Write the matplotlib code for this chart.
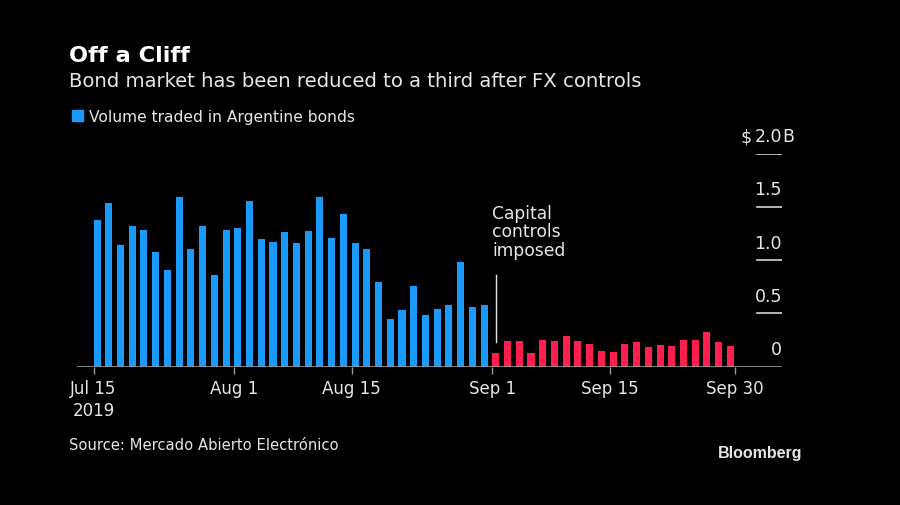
import numpy as np
import matplotlib
matplotlib.use("Agg")
import matplotlib.pyplot as plt
from matplotlib.patches import Rectangle

# Daily volume traded in Argentine bonds, $ billions (one bar per trading day)
blue_values = [1.38, 1.54, 1.14, 1.32, 1.28, 1.08, 0.91, 1.59, 1.10, 1.32,
               0.86, 1.28, 1.30, 1.56, 1.20, 1.17, 1.26, 1.16, 1.27, 1.59,
               1.21, 1.43, 1.16, 1.10, 0.79, 0.45, 0.53, 0.76, 0.48, 0.54,
               0.58, 0.98, 0.56, 0.58]
red_values = [0.13, 0.24, 0.24, 0.13, 0.25, 0.24, 0.29, 0.24, 0.21, 0.15,
              0.14, 0.21, 0.23, 0.18, 0.20, 0.19, 0.25, 0.25, 0.32, 0.23,
              0.19]

# x tick labels and their place on the trading-day axis
tick_labels = ["Jul 15\n2019", "Aug 1", "Aug 15", "Sep 1", "Sep 15", "Sep 30"]
tick_pos = [-0.3, 11.7, 21.7, 33.7, 43.7, 54.4]
y_ticks = [0, 0.5, 1.0, 1.5, 2.0]

BLUE = "#1a9bfc"
RED = "#ff1f4f"
TEXT = "#e6e6e6"
GREY = "#9a9a9a"
W, H = 900, 505

plt.rcParams['font.family'] = ['DejaVu Sans']


def fx(px):
    return px / W


def fy(py):
    return 1 - py / H


fig = plt.figure(figsize=(9, 5.05), dpi=100, facecolor="black")
ax = fig.add_axes([fx(77), fy(366.5), fx(782 - 77), (366.5 - 153.7) / H])
ax.set_facecolor("black")

n_blue = len(blue_values)
x_blue = np.arange(n_blue)
x_red = np.arange(n_blue, n_blue + len(red_values))
ax.bar(x_blue, blue_values, width=0.6, color=BLUE)
ax.bar(x_red, red_values, width=0.6, color=RED)

ax.set_xlim(-1.71, 58.4)
ax.set_ylim(0, 2.0)

for s in ax.spines.values():
    s.set_visible(False)
ax.axhline(0, color=GREY, lw=1.2)
ax.set_yticks([])
ax.set_xticks(tick_pos)
ax.set_xticklabels(tick_labels, color=TEXT, fontsize=12, linespacing=1.25)
ax.tick_params(axis="x", length=5, width=1, color=GREY, pad=5)

# short gridlines with labels at the right
ytrans = ax.get_yaxis_transform()
for v in y_ticks:
    if v > 0:
        ax.axhline(v, xmin=0.9645, xmax=1, color=TEXT, lw=1.1)
    lab = "0" if v == 0 else f"{v:.1f}"
    ax.text(1.0, v + 0.155, lab, transform=ytrans,
            ha="right", va="center", color=TEXT, fontsize=12.5)
ax.text(0.957, 2.0 + 0.155, "$", transform=ytrans,
        ha="right", va="center", color=TEXT, fontsize=12.5)
ax.text(1.0, 2.0 + 0.155, "B", transform=ytrans,
        ha="left", va="center", color=TEXT, fontsize=12.5)

# annotation
ax.plot([n_blue, n_blue], [0.23, 0.86], color=TEXT, lw=1)
ax.text(n_blue - 0.3, 1.0, "Capital\ncontrols\nimposed", ha="left", va="bottom",
        color=TEXT, fontsize=12.3, linespacing=1.05)

# titles and legend
fig.text(fx(69), fy(62), "Off a Cliff", color="white", fontsize=16.2,
         fontweight="bold", va="baseline")
fig.text(fx(69), fy(87), "Bond market has been reduced to a third after FX controls",
         color=TEXT, fontsize=14.1, va="baseline")
fig.patches.append(Rectangle((fx(72), fy(121)), fx(11), 11 / H, color=BLUE,
                             transform=fig.transFigure, figure=fig))
fig.text(fx(89), fy(122), "Volume traded in Argentine bonds", color=TEXT,
         fontsize=11.2, va="baseline")
fig.text(fx(69), fy(450), "Source: Mercado Abierto Electrónico", color=TEXT,
         fontsize=10.6, va="baseline")
fig.text(fx(802), fy(458), "Bloomberg", color=TEXT, fontsize=11.5,
         fontweight="bold", ha="right", va="baseline", family="Liberation Sans")

fig.savefig("out.png", dpi=100, facecolor="black")
